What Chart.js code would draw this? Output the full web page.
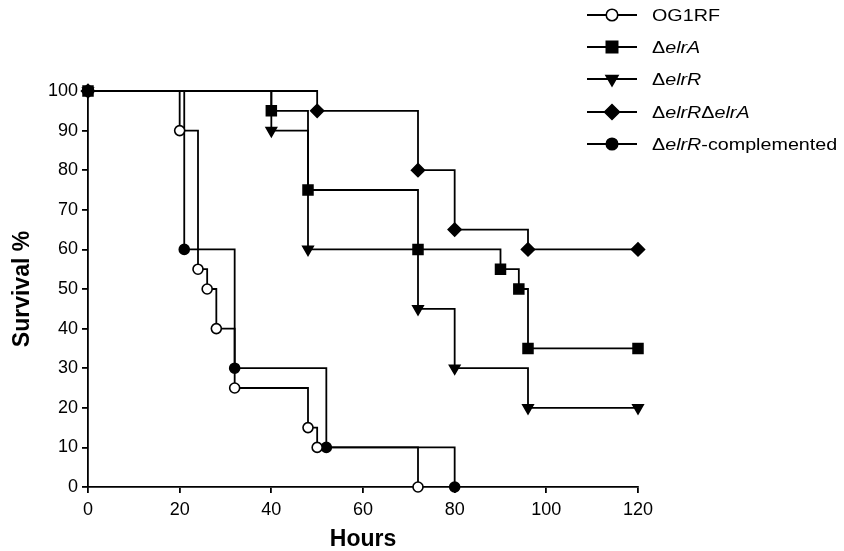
<!DOCTYPE html>
<html>
<head>
<meta charset="utf-8">
<script src="https://cdn.jsdelivr.net/npm/chart.js@4"></script>
<style>
  html, body { margin: 0; padding: 0; background: #fff; }
  canvas { display: block; }
</style>
</head>
<body>
<canvas id="survivalChart" width="844" height="551"></canvas>
<script>
// Survival data (Kaplan-Meier steps, one point per event)
const xTicks = [0, 20, 40, 60, 80, 100, 120];
const yTicks = [0, 10, 20, 30, 40, 50, 60, 70, 80, 90, 100];

const og1rfHours = [0, 20, 24, 26, 28, 32, 48, 50, 72];
const og1rfSurvival = [100, 90, 55, 50, 40, 25, 15, 10, 0];

const elrAHours = [0, 40, 48, 72, 90, 94, 96, 120];
const elrASurvival = [100, 95, 75, 60, 55, 50, 35, 35];

const elrRHours = [0, 40, 48, 72, 80, 96, 120];
const elrRSurvival = [100, 90, 60, 45, 30, 20, 20];

const doubleHours = [0, 50, 72, 80, 96, 120];
const doubleSurvival = [100, 95, 80, 65, 60, 60];

const complHours = [0, 21, 32, 52, 80];
const complSurvival = [100, 60, 30, 10, 0];

// legend text pieces: [text, italic?]
const legendLabels = [
    [['OG1RF', false]],
    [['\u0394', false], ['elrA', true]],
    [['\u0394', false], ['elrR', true]],
    [['\u0394', false], ['elrR', true], ['\u0394', false], ['elrA', true]],
    [['\u0394', false], ['elrR', true], ['-complemented', false]]
];

const FONT = '"Liberation Sans", Arial, sans-serif';
const INK = '#000';
const LW = 1.8;

function toPoints(xs, ys) {
    return xs.map((x, i) => ({ x: x, y: ys[i] }));
}

function series(xs, ys, style, fill, radius, rotation, order) {
    return {
        data: toPoints(xs, ys),
        stepped: 'before',
        borderColor: INK,
        borderWidth: LW,
        pointStyle: style,
        pointRadius: radius,
        pointRotation: rotation || 0,
        pointBackgroundColor: fill,
        pointBorderColor: INK,
        pointBorderWidth: 1.6,
        fill: false,
        clip: false,
        order: order
    };
}

const datasets = [
    series(og1rfHours, og1rfSurvival, 'circle', '#fff', 5, 0, 3),
    series(elrAHours, elrASurvival, 'rect', INK, 7, 0, 0),
    series(elrRHours, elrRSurvival, 'triangle', INK, 6, 180, 1),
    series(doubleHours, doubleSurvival, 'rectRot', INK, 6.5, 0, 2),
    series(complHours, complSurvival, 'circle', INK, 5, 0, 4)
];

// Draw the legend by hand so italic gene names can be mixed with normal text
const legendPlugin = {
    id: 'customLegend',
    afterDraw(chart) {
        const ctx = chart.ctx;
        const lineX1 = 587, lineX2 = 637, markX = 612, textX = 652;
        const rowY = [15, 47, 79, 112, 144];
        const stretch = 1.16;
        ctx.save();
        datasets.forEach((ds, i) => {
            const y = rowY[i];
            ctx.strokeStyle = INK;
            ctx.lineWidth = LW;
            ctx.beginPath();
            ctx.moveTo(lineX1, y);
            ctx.lineTo(lineX2, y);
            ctx.stroke();
            ctx.fillStyle = ds.pointBackgroundColor;
            ctx.lineWidth = 1.6;
            Chart.helpers.drawPoint(ctx, {
                pointStyle: ds.pointStyle,
                radius: ds.pointRadius * 1.15,
                rotation: ds.pointRotation,
                borderWidth: 1.6
            }, markX, y);
            let x = textX;
            ctx.fillStyle = INK;
            ctx.textBaseline = 'middle';
            ctx.textAlign = 'left';
            legendLabels[i].forEach(([txt, italic]) => {
                ctx.font = (italic ? 'italic ' : '') + '17px ' + FONT;
                ctx.save();
                ctx.translate(x, y + 1);
                ctx.scale(stretch, 1);
                ctx.fillText(txt, 0, 0);
                ctx.restore();
                x += ctx.measureText(txt).width * stretch;
            });
        });
        ctx.restore();
    }
};

const ctx = document.getElementById('survivalChart').getContext('2d');
new Chart(ctx, {
    type: 'line',
    data: { datasets: datasets },
    plugins: [legendPlugin],
    options: {
        responsive: false,
        animation: false,
        layout: { padding: { top: 91, right: 206, bottom: 0, left: 0 } },
        plugins: {
            legend: { display: false },
            tooltip: { enabled: false }
        },
        scales: {
            x: {
                type: 'linear',
                min: 0,
                max: 120,
                afterBuildTicks: (scale) => { scale.ticks = xTicks.map(v => ({ value: v })); },
                afterFit: (scale) => { scale.height = 64; },
                grid: { drawOnChartArea: false, tickLength: 6, color: INK, lineWidth: LW },
                border: { display: true, color: INK, width: LW },
                ticks: { color: INK, padding: 6, maxRotation: 0, font: { family: FONT, size: 18 } },
                title: {
                    display: true,
                    text: 'Hours',
                    color: INK,
                    padding: { top: 0, bottom: 0 },
                    font: { family: FONT, size: 23, weight: 'bold', lineHeight: 1 }
                }
            },
            y: {
                type: 'linear',
                min: 0,
                max: 100,
                afterBuildTicks: (scale) => { scale.ticks = yTicks.map(v => ({ value: v })); },
                afterFit: (scale) => { scale.width = 88; },
                grid: { drawOnChartArea: false, tickLength: 6, color: INK, lineWidth: LW },
                border: { display: true, color: INK, width: LW },
                ticks: { color: INK, padding: 4, font: { family: FONT, size: 18 } },
                title: {
                    display: true,
                    text: 'Survival %',
                    color: INK,
                    padding: { top: 11, bottom: 0 },
                    font: { family: FONT, size: 23, weight: 'bold', lineHeight: 1 }
                }
            }
        }
    }
});
</script>
</body>
</html>
